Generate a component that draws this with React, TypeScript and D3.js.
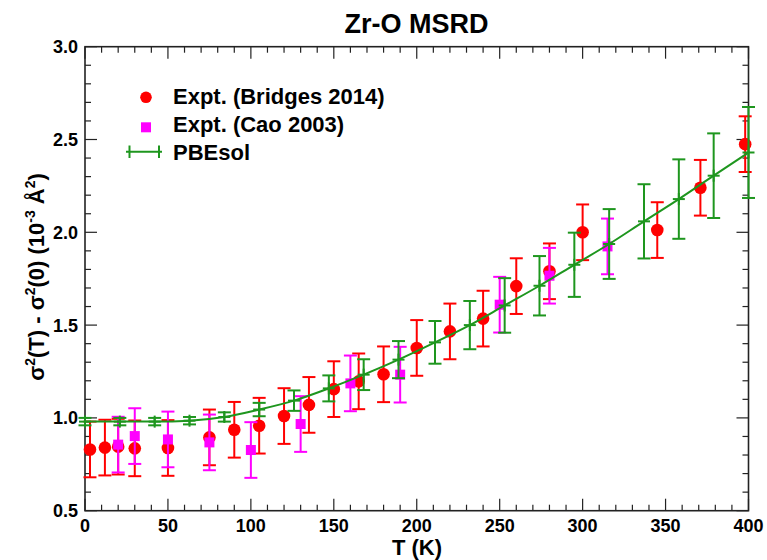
import React from "react";
import * as d3 from "d3";

// Expt. (Bridges 2014)
const bridgesT = [3, 12, 20, 30, 50, 75, 90, 105, 120, 135, 150, 165, 180, 200, 220, 240, 260, 280, 300, 345, 371, 398];
const bridgesV = [0.83, 0.84, 0.845, 0.836, 0.838, 0.895, 0.936, 0.958, 1.01, 1.07, 1.155, 1.197, 1.235, 1.377, 1.466, 1.535, 1.71, 1.79, 2.0, 2.012, 2.24, 2.475];
const bridgesErr = [0.15, 0.15, 0.15, 0.15, 0.15, 0.15, 0.15, 0.15, 0.15, 0.15, 0.15, 0.15, 0.15, 0.15, 0.15, 0.15, 0.15, 0.15, 0.15, 0.15, 0.15, 0.15];

// Expt. (Cao 2003)
const caoT = [20, 30, 50, 75, 100, 130, 160, 190, 250, 280, 315];
const caoV = [0.856, 0.902, 0.884, 0.868, 0.827, 0.967, 1.186, 1.233, 1.61, 1.766, 1.924];
const caoErr = [0.15, 0.15, 0.15, 0.15, 0.15, 0.15, 0.15, 0.15, 0.15, 0.15, 0.15];

// PBEsol
const pbeT = [0, 21, 42, 63, 84, 105, 126, 147, 168, 189, 211, 232, 253, 274, 295, 316, 337, 358, 379, 400];
const pbeV = [0.98, 0.98, 0.98, 0.985, 1.005, 1.045, 1.093, 1.159, 1.233, 1.314, 1.407, 1.5, 1.606, 1.712, 1.825, 1.937, 2.059, 2.179, 2.305, 2.43];
const pbeErr = [0.02, 0.02, 0.02, 0.02, 0.025, 0.036, 0.055, 0.07, 0.083, 0.1, 0.115, 0.13, 0.147, 0.16, 0.173, 0.188, 0.2, 0.214, 0.228, 0.245];

const xTicks = [0, 50, 100, 150, 200, 250, 300, 350, 400];
const yTicks = [0.5, 1.0, 1.5, 2.0, 2.5, 3.0];
const yTickLabels = ["0.5", "1.0", "1.5", "2.0", "2.5", "3.0"];

const width = 767;
const height = 560;
const font = "'Liberation Sans', Arial, Helvetica, sans-serif";

const RED = "#ff0000";
const MAGENTA = "#ff00ff";
const GREEN = "#1e961e";

const x = d3.scaleLinear().domain([0, 400]).range([85, 748.5]);
const y = d3.scaleLinear().domain([0.5, 3.0]).range([510.7, 46.7]);

const ErrBars = ({ ts, vs, es, color, cap = 6.5 }) => (
  <g stroke={color} strokeWidth={2} fill="none">
    {ts.map((t, i) => {
      const cx = x(t);
      const y0 = y(vs[i] - es[i]);
      const y1 = y(vs[i] + es[i]);
      return (
        <g key={i}>
          <line x1={cx} x2={cx} y1={y0} y2={y1} />
          <line x1={cx - cap} x2={cx + cap} y1={y0} y2={y0} />
          <line x1={cx - cap} x2={cx + cap} y1={y1} y2={y1} />
        </g>
      );
    })}
  </g>
);

export default function App() {
  const line = d3
    .line<number>()
    .x((d, i) => x(pbeT[i]))
    .y((d) => y(d))
    .curve(d3.curveMonotoneX);

  const minorX = x.ticks(40);
  const minorY = y.ticks(25);
  const [x0, x1] = x.range();
  const [yb, yt] = y.range();

  return (
    <div style={{ position: "absolute", left: 0, top: 0 }}>
      <svg width={width} height={height} style={{ display: "block", background: "#fff" }} fontFamily={font}>
        <text x={416.5} y={33} textAnchor="middle" fontSize={27} fontWeight="bold">
          Zr-O MSRD
        </text>

        {/* ticks, inward on every side */}
        <g stroke="#222" strokeWidth={1.2}>
          {minorX.map((t) => {
            const len = t % 50 === 0 ? 12 : 6;
            return (
              <g key={"x" + t}>
                <line x1={x(t)} x2={x(t)} y1={yb} y2={yb - len} />
                <line x1={x(t)} x2={x(t)} y1={yt} y2={yt + len} />
              </g>
            );
          })}
          {minorY.map((v) => {
            const len = Math.abs(v * 2 - Math.round(v * 2)) < 1e-6 ? 12 : 6;
            return (
              <g key={"y" + v}>
                <line x1={x0} x2={x0 + len} y1={y(v)} y2={y(v)} />
                <line x1={x1} x2={x1 - len} y1={y(v)} y2={y(v)} />
              </g>
            );
          })}
        </g>
        <rect x={x0} y={yt} width={x1 - x0} height={yb - yt} fill="none" stroke="#222" strokeWidth={1.6} />

        <g fontSize={18} fontWeight="bold">
          {xTicks.map((t) => (
            <text key={t} x={x(t)} y={531.5} textAnchor="middle">
              {t}
            </text>
          ))}
          {yTicks.map((v, i) => (
            <text key={v} x={78} y={y(v) + 6.5} textAnchor="end">
              {yTickLabels[i]}
            </text>
          ))}
        </g>

        <text x={417} y={555} textAnchor="middle" fontSize={22} fontWeight="bold">
          T (K)
        </text>
        <text transform="translate(44,277) rotate(-90)" textAnchor="middle" fontSize={22} fontWeight="bold">
          σ<tspan fontSize={14} dy={-9}>2</tspan>
          <tspan dy={9}>(T) - σ</tspan>
          <tspan fontSize={14} dy={-9}>2</tspan>
          <tspan dy={9}>(0) (10</tspan>
          <tspan fontSize={14} dy={-9}>-3</tspan>
          <tspan dy={9}> Å</tspan>
          <tspan fontSize={14} dy={-9}>2</tspan>
          <tspan dy={9}>)</tspan>
        </text>

        {/* Bridges 2014 */}
        <ErrBars ts={bridgesT} vs={bridgesV} es={bridgesErr} color={RED} />
        {bridgesT.map((t, i) => (
          <circle key={i} cx={x(t)} cy={y(bridgesV[i])} r={6.3} fill={RED} />
        ))}

        {/* Cao 2003 */}
        <ErrBars ts={caoT} vs={caoV} es={caoErr} color={MAGENTA} />
        {caoT.map((t, i) => (
          <rect key={i} x={x(t) - 5} y={y(caoV[i]) - 5} width={10} height={10} fill={MAGENTA} />
        ))}

        {/* PBEsol */}
        <ErrBars ts={pbeT} vs={pbeV} es={pbeErr} color={GREEN} />
        <path d={line(pbeV) || ""} fill="none" stroke={GREEN} strokeWidth={2} />
        <g stroke={GREEN} strokeWidth={2}>
          {pbeT.map((t, i) => (
            <g key={i}>
              <line x1={x(t) - 6} x2={x(t) + 6} y1={y(pbeV[i])} y2={y(pbeV[i])} />
              <line x1={x(t)} x2={x(t)} y1={y(pbeV[i]) - 6} y2={y(pbeV[i]) + 6} />
            </g>
          ))}
        </g>

        {/* legend */}
        <g fontSize={22} fontWeight="bold">
          <circle cx={146} cy={97.3} r={5.8} fill={RED} />
          <text x={173} y={103.5}>Expt. (Bridges 2014)</text>
          <rect x={141} y={122.3} width={10} height={10} fill={MAGENTA} />
          <text x={173} y={132}>Expt. (Cao 2003)</text>
          <g stroke={GREEN} strokeWidth={2}>
            <line x1={126} x2={162} y1={151.7} y2={151.7} />
            <line x1={129.5} x2={129.5} y1={145.5} y2={158} />
            <line x1={159} x2={159} y1={145.5} y2={158} />
          </g>
          <text x={173} y={160}>PBEsol</text>
        </g>
      </svg>
    </div>
  );
}
